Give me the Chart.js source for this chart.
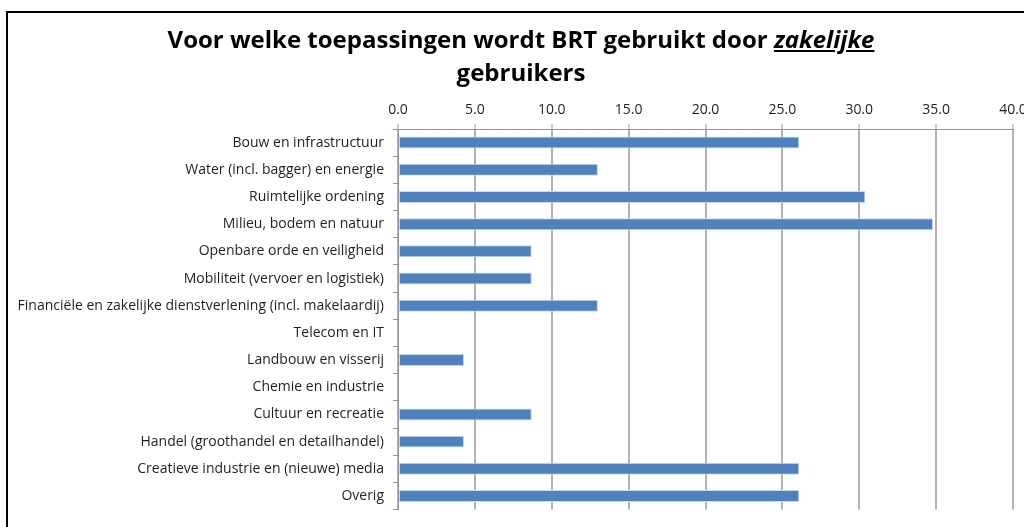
<!DOCTYPE html>
<html>
<head>
<meta charset="utf-8">
<script src="https://cdn.jsdelivr.net/npm/chart.js@4/dist/chart.umd.min.js"></script>
<style>
    html, body {
        margin: 0;
        padding: 0;
        width: 1024px;
        height: 527px;
        overflow: hidden;
        background: #fff;
    }
    #frame {
        position: absolute;
        left: 6px;
        top: 11px;
        width: 1040px;
        height: 540px;
        border: 2px solid #000;
    }
    #title {
        position: absolute;
        left: 6px;
        top: 22px;
        width: 1030px;
        text-align: center;
        font-family: "Open Sans", Lato, sans-serif;
        font-weight: bold;
        font-size: 24px;
        line-height: 33px;
        color: #000;
        z-index: 2;
    }
    #title em {
        text-decoration: underline;
    }
    #chart {
        position: absolute;
        left: 0;
        top: 0;
    }
</style>
</head>
<body>
<div id="frame"></div>
<div id="title">Voor welke toepassingen wordt BRT gebruikt door <em>zakelijke</em><br>gebruikers</div>
<canvas id="chart" width="1060" height="527"></canvas>
<script>
// categorieen (van boven naar beneden)
const categories = [
    'Bouw en infrastructuur',
    'Water (incl. bagger) en energie',
    'Ruimtelijke ordening',
    'Milieu, bodem en natuur',
    'Openbare orde en veiligheid',
    'Mobiliteit (vervoer en logistiek)',
    'Financiële en zakelijke dienstverlening (incl. makelaardij)',
    'Telecom en IT',
    'Landbouw en visserij',
    'Chemie en industrie',
    'Cultuur en recreatie',
    'Handel (groothandel en detailhandel)',
    'Creatieve industrie en (nieuwe) media',
    'Overig'
];

// percentage zakelijke gebruikers
const percentages = [26.1, 13.0, 30.4, 34.8, 8.7, 8.7, 13.0, 0, 4.3, 0, 8.7, 4.3, 26.1, 26.1];

// as 0.0 .. 40.0
const axisMin = 0;
const axisMax = 40;
const axisStep = 5;

const labelFont = { family: 'Open Sans', size: 14 };
const gridGray = '#b2b2b2';
const axisGray = '#969696';

const config = {
    type: 'bar',
    data: {
        labels: categories,
        datasets: [{
            data: percentages,
            backgroundColor: '#4F81BD',
            borderColor: '#c9d7eb',
            borderWidth: 1,
            borderSkipped: false,
            barPercentage: 0.44,
            categoryPercentage: 1.0,
        }],
    },
    options: {
        indexAxis: 'y',
        responsive: false,
        animation: false,
        devicePixelRatio: 1,
        layout: {
            padding: { left: 0, top: 0, right: 47, bottom: 9 },
        },
        plugins: {
            legend: { display: false },
            tooltip: { enabled: false },
            title: { display: false },
        },
        scales: {
            x: {
                position: 'top',
                min: axisMin,
                max: axisMax,
                ticks: {
                    stepSize: axisStep,
                    font: labelFont,
                    color: '#1f1f1f',
                    padding: 6,
                    maxRotation: 0,
                    callback: (value) => Number(value).toFixed(1),
                },
                grid: {
                    color: gridGray,
                    lineWidth: 2,
                    tickLength: 5,
                    tickColor: axisGray,
                    tickWidth: 1,
                },
                border: { color: axisGray, width: 1 },
                afterFit: (scale) => { scale.height = 129; },
            },
            y: {
                offset: true,
                ticks: {
                    font: labelFont,
                    color: '#1f1f1f',
                    padding: 9,
                    autoSkip: false,
                },
                grid: {
                    offset: true,
                    drawOnChartArea: false,
                    tickLength: 5,
                    tickColor: axisGray,
                },
                border: { color: axisGray, width: 1 },
                afterFit: (scale) => { scale.width = 398; },
            },
        },
    },
};

new Chart(document.getElementById('chart'), config);
</script>
</body>
</html>
